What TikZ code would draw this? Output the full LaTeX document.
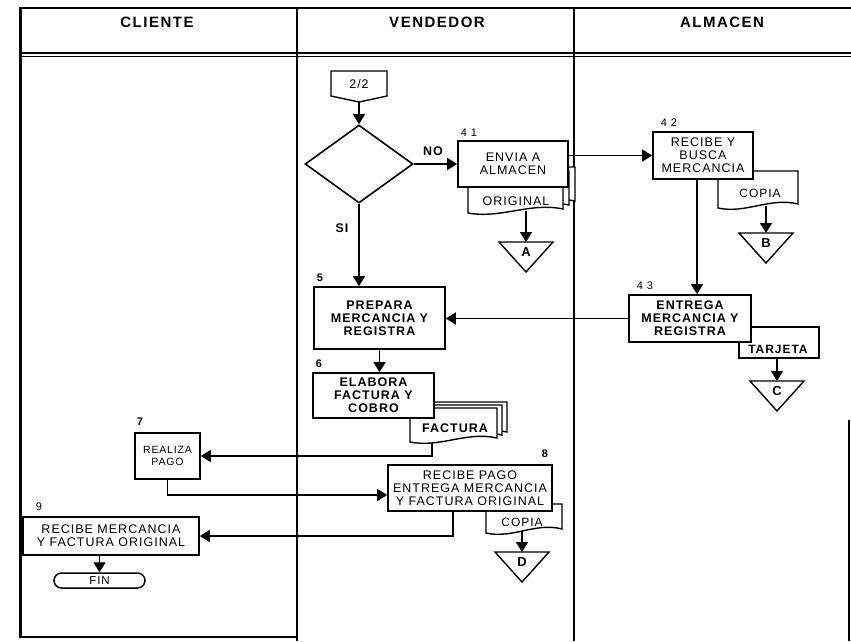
\documentclass[tikz,border=0pt]{standalone}
\usepackage{fontspec}
\setmainfont{Liberation Sans}
\newfontfamily\spaced[LetterSpace=8]{Liberation Sans}
\newfontfamily\headfont[LetterSpace=10]{Liberation Sans}
\usetikzlibrary{shapes.geometric,shapes.misc,arrows.meta,calc}

% document symbol: left, right, top, bottom (wavy lower edge)
\newcommand\flowdoc[4]{%
  \draw[doc] (#1,#3) -- (#2,#3) -- (#2,{#4-4})
    .. controls ({#2-0.35*(#2-#1)},{#4-11}) and ({#1+0.35*(#2-#1)},{#4+6}) .. (#1,#4) -- cycle;}

% off-page triangle: name, x of centre, top, letter
\newcommand\offtri[4]{%
  \coordinate (#1) at (#2,#3);
  \draw[doc] ({#2-27},#3) -- ({#2+27},#3) -- (#2,{#3+30}) -- cycle;
  \node[trilbl] (#1-l) at (#2,{#3+10}) {#4};}

\begin{document}
\begin{tikzpicture}[x=1pt,y=-1pt,
  lane/.style={line width=1.7pt},
  proc/.style={draw, line width=1.6pt, fill=white, inner sep=0pt, align=center,
    font=\spaced\fontsize{12.5}{13}\selectfont},
  procb/.style={proc, font=\spaced\bfseries\fontsize{12.5}{13}\selectfont},
  conn/.style={line width=1.4pt},
  arr/.style={conn, -{Triangle[length=10pt,width=12pt]}},
  doc/.style={draw, line width=1.4pt, fill=white},
  lbl/.style={inner sep=0pt, font=\spaced\fontsize{12.5}{13}\selectfont},
  lblb/.style={inner sep=0pt, font=\spaced\bfseries\fontsize{12.5}{13}\selectfont},
  num/.style={inner sep=0pt, font=\spaced\fontsize{11}{12}\selectfont},
  numb/.style={inner sep=0pt, font=\spaced\bfseries\fontsize{11}{12}\selectfont},
  head/.style={inner sep=0pt, font=\headfont\bfseries\fontsize{15}{16}\selectfont},
  trilbl/.style={inner sep=0pt, font=\spaced\bfseries\fontsize{13}{14}\selectfont}]

\useasboundingbox (0,0) rectangle (851,641);
\fill[white] (0,0) rectangle (851,641);

% swimlane frame
\draw[lane] (21,8) -- (851,8);
\draw[lane] (21,53) -- (851,53);
\draw[lane] (21,56.5) -- (851,56.5);
\draw[line width=3pt] (20,7) -- (20,638);
\draw[lane] (20,637) -- (297,637);
\draw[lane] (297,8) -- (297,641);
\draw[lane] (574,8) -- (574,641);
\draw[lane] (849,420) -- (849,641);

\node[head] (hC) at (157,22) {CLIENTE};
\node[head] (hV) at (437,22) {VENDEDOR};
\node[head] (hA) at (722,22) {ALMACEN};

% connector 2/2 and decision
\node[lbl] (c22) at (359,84) {2/2};
\coordinate (c22tip) at (359,102);
\draw[conn] (331,71) -- (387,71) -- (387,96) -- (c22tip) -- (331,96) -- cycle;
\node[diamond, draw, line width=1.6pt, minimum width=108, minimum height=78, inner sep=0pt] (dia) at (359,164) {};
\draw[arr] (c22tip) -- (dia.north);
\node[lblb] (lNO) at (433,151) {NO};
\node[lblb] (lSI) at (342,228) {SI};

% documents (drawn first, boxes overlap them)
\flowdoc{480}{575}{167}{205}
\flowdoc{474}{569}{171}{209}
\flowdoc{468}{563}{175}{213}
\node[lbl] (tOrig) at (516,201) {ORIGINAL};

\flowdoc{718}{798}{171}{208}
\node[lbl, font=\spaced\fontsize{12}{13}\selectfont] (tCopia1) at (760,193) {COPIA};

\draw[doc] (739,327) rectangle (819,358);
\node[lblb, font=\spaced\bfseries\fontsize{12}{13}\selectfont] (tTarj) at (778,349) {TARJETA};

\flowdoc{420}{507}{402}{436}
\flowdoc{415}{502}{405}{439}
\flowdoc{410}{497}{408}{442}
\node[lblb] (tFact) at (455,428) {FACTURA};

\flowdoc{486}{562}{504}{533}
\node[lbl, font=\spaced\fontsize{12}{13}\selectfont] (tCopia2) at (522,522) {COPIA};

% process boxes
\node[proc, minimum width=110, minimum height=46] (n41) at (513,164) {ENVIA A\\ALMACEN};
\node[num] (k41) at (469,133) {4 1};
\node[proc, minimum width=100, minimum height=47] (n42) at (703,155.5) {RECIBE Y\\BUSCA\\MERCANCIA};
\node[num] (k42) at (669,123) {4 2};
\node[procb, minimum width=122, minimum height=47] (n43) at (690,318.5) {ENTREGA\\MERCANCIA Y\\REGISTRA};
\node[num] (k43) at (645,286) {4 3};
\node[procb, minimum width=131, minimum height=62] (n5) at (379.5,318) {PREPARA\\MERCANCIA Y\\REGISTRA};
\node[numb] (k5) at (320,278) {5};
\node[procb, minimum width=121, minimum height=45] (n6) at (373.5,395.5) {ELABORA\\FACTURA Y\\COBRO};
\node[numb] (k6) at (319,364) {6};
\node[proc, minimum width=65, minimum height=46, font=\spaced\fontsize{10.5}{12}\selectfont] (n7) at (167.5,456) {REALIZA\\PAGO};
\node[numb] (k7) at (140,422) {7};
\node[proc, minimum width=164, minimum height=46] (n8) at (470,488) {RECIBE PAGO\\ENTREGA MERCANCIA\\Y FACTURA ORIGINAL};
\node[numb] (k8) at (545,454) {8};
\node[proc, minimum width=176, minimum height=38] (n9) at (111,536) {RECIBE MERCANCIA\\Y FACTURA ORIGINAL};
\node[num] (k9) at (39,507) {9};
\node[rounded rectangle, draw, line width=1.5pt, minimum width=91, minimum height=15, inner sep=0pt,
  font=\spaced\fontsize{11.5}{12}\selectfont] (fin) at (99.5,580.5) {FIN};

% off-page triangles
\offtri{triA}{526}{242}{A}
\offtri{triB}{766}{233}{B}
\offtri{triC}{777}{381}{C}
\offtri{triD}{522}{552}{D}

\coordinate (origBot) at (526,211);
\coordinate (copia1Bot) at (766,206);
\coordinate (tarjBot) at (777,358);
\coordinate (factBot) at (432,443);
\coordinate (copia2Bot) at (522,531);

% flow
\draw[arr] (dia.east) -- (n41.west);
\draw[arr] (dia.south) -- (dia.south |- n5.north);
\draw[arr] (n41.east |- n42.west) -- (n42.west);
\draw[arr] (origBot) -- (triA);
\draw[arr] (copia1Bot) -- (triB);
\draw[arr] ([xshift=-6pt]n42.south) -- ([xshift=-6pt]n42.south |- n43.north);
\draw[arr] (tarjBot) -- (triC);
\draw[arr] (n43.west) -- (n43.west -| n5.east);
\draw[arr] (n5.south) -- (n5.south |- n6.north);
\draw[arr] (factBot) |- (n7.east);
\draw[arr] (n7.south) |- ($(n8.west)+(0,7)$);
\draw[arr] (copia2Bot) -- (triD);
\draw[arr] ($(n8.south)+(-17,0)$) |- (n9.east);
\draw[arr] (fin.north |- n9.south) -- (fin.north);
\end{tikzpicture}
\end{document}
